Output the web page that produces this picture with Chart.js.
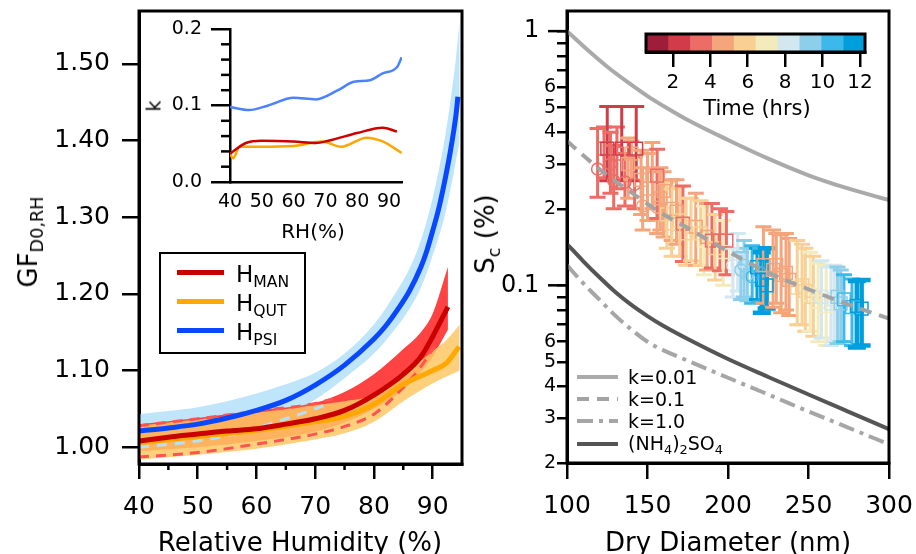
<!DOCTYPE html>
<html>
<head>
<meta charset="utf-8">
<script src="https://cdn.jsdelivr.net/npm/chart.js@4.4.1/dist/chart.umd.min.js"></script>
<style>
  body { margin: 0; background: #fff; }
  #fig { position: relative; width: 916px; height: 554px; background: #fff; overflow: hidden;
         font-family: 'DejaVu Sans', sans-serif; color: #000; }
  #fig canvas { position: absolute; }
  .t { position: absolute; white-space: nowrap; line-height: 1; }
  .c { transform: translate(-50%, -50%); }
  .l { transform: translateY(-50%); }
  .r { transform: translate(-50%, -50%) rotate(-90deg); }
  sub { font-size: 0.68em; vertical-align: -0.32em; line-height: 0; }
  .swatch { position: absolute; width: 47px; height: 5px; }
  #legL { position: absolute; left: 159px; top: 252px; width: 147px; height: 102px;
          border: 2.5px solid #000; box-sizing: border-box; background: #fff; }
</style>
</head>
<body>
<div id="fig">
  <canvas id="gf" width="470" height="554" style="left:0;top:0"></canvas>
  <canvas id="kin" width="270" height="250" style="left:150px;top:0"></canvas>
  <canvas id="sc" width="446" height="554" style="left:470px;top:0"></canvas>
  <canvas id="cbar" width="270" height="110" style="left:620px;top:20px"></canvas>

  <div class="t r" style="left:28px;top:242px;font-size:26px">GF<sub>D0,RH</sub></div>
  <div class="t c" style="left:300px;top:542px;font-size:26px">Relative Humidity (%)</div>
  <div class="t r" style="left:154px;top:106px;font-size:19px">k</div>
  <div class="t c" style="left:313px;top:231px;font-size:20px">RH(%)</div>
  <div class="t r" style="left:485px;top:234px;font-size:26px">S<sub>c</sub> (%)</div>
  <div class="t c" style="left:728px;top:542px;font-size:26px">Dry Diameter (nm)</div>
  <div class="t c" style="left:757px;top:108px;font-size:21px">Time (hrs)</div>

  <div id="legL"></div>
  <div class="swatch" style="left:177px;top:270px;background:#c80000"></div>
  <div class="swatch" style="left:177px;top:299px;background:#ffa800"></div>
  <div class="swatch" style="left:177px;top:328px;background:#0a48ff"></div>
  <div class="t l" style="left:236px;top:274px;font-size:23px">H<sub>MAN</sub></div>
  <div class="t l" style="left:236px;top:303px;font-size:23px">H<sub>QUT</sub></div>
  <div class="t l" style="left:236px;top:332px;font-size:23px">H<sub>PSI</sub></div>

  <svg width="44" height="92" style="position:absolute;left:576px;top:366px">
    <line x1="1" y1="11" x2="42" y2="11" stroke="#aaaaaa" stroke-width="4"/>
    <line x1="1" y1="33" x2="42" y2="33" stroke="#a3a3a3" stroke-width="4" stroke-dasharray="12 8"/>
    <line x1="1" y1="55" x2="42" y2="55" stroke="#a6a6a6" stroke-width="4" stroke-dasharray="16 6 4 6"/>
    <line x1="1" y1="78" x2="42" y2="78" stroke="#555555" stroke-width="4"/>
  </svg>
  <div class="t l" style="left:628px;top:377px;font-size:19px">k=0.01</div>
  <div class="t l" style="left:628px;top:399px;font-size:19px">k=0.1</div>
  <div class="t l" style="left:628px;top:421px;font-size:19px">k=1.0</div>
  <div class="t l" style="left:628px;top:443px;font-size:19px">(NH<sub>4</sub>)<sub>2</sub>SO<sub>4</sub></div>
</div>

<script>
// growth factor vs RH, three instruments
const rhPSI = [40, 45, 50, 55, 60, 65, 70, 75, 80, 82, 84, 86, 88, 89, 90, 91, 92, 93, 94, 94.3];
const gfPSI = [1.021, 1.025, 1.030, 1.038, 1.048, 1.061, 1.081, 1.107, 1.141, 1.158, 1.179, 1.203, 1.235, 1.256, 1.282, 1.310, 1.345, 1.385, 1.435, 1.457];
const rhPSIBand = [40, 45, 50, 55, 60, 65, 70, 75, 80, 84, 86, 88, 90, 92, 93, 94, 94.6];
const gfPSIHi = [1.043, 1.047, 1.052, 1.060, 1.070, 1.082, 1.097, 1.122, 1.160, 1.205, 1.232, 1.270, 1.325, 1.400, 1.450, 1.510, 1.557];
const gfPSILo = [1.003, 1.006, 1.010, 1.017, 1.027, 1.040, 1.062, 1.090, 1.122, 1.158, 1.180, 1.208, 1.250, 1.300, 1.335, 1.375, 1.400];

const rhMAN = [40, 45, 50, 55, 60, 65, 70, 75, 80, 85, 88, 90, 92.6];
const gfMAN = [1.008, 1.013, 1.017, 1.021, 1.024, 1.030, 1.037, 1.048, 1.068, 1.095, 1.118, 1.144, 1.183];
const rhMANBand = [40, 50, 60, 70, 75, 80, 85, 88, 90, 92.6];
const gfMANHi = [1.030, 1.038, 1.048, 1.058, 1.072, 1.095, 1.128, 1.150, 1.174, 1.235];
const gfMANLo = [0.995, 1.000, 1.008, 1.020, 1.032, 1.050, 1.075, 1.098, 1.118, 1.153];
const rhMANDashHi = [40, 50, 60, 70, 73];
const gfMANDashHi = [1.028, 1.037, 1.047, 1.057, 1.063];
const rhMANDashLo = [40, 50, 60, 70, 75, 80, 85, 88, 90.3];
const gfMANDashLo = [0.987, 0.993, 1.004, 1.017, 1.027, 1.043, 1.078, 1.105, 1.131];

const rhQUT = [40, 50, 60, 70, 75, 80, 85, 90, 92.4, 94.5];
const gfQUT = [1.006, 1.014, 1.022, 1.033, 1.040, 1.056, 1.082, 1.100, 1.110, 1.131];
const rhQUTBand = [40, 50, 60, 70, 75, 80, 85, 90, 92.4, 94.6];
const gfQUTHi = [1.028, 1.036, 1.045, 1.055, 1.060, 1.068, 1.095, 1.125, 1.140, 1.160];
const gfQUTLo = [0.984, 0.990, 0.998, 1.010, 1.018, 1.033, 1.060, 1.083, 1.092, 1.100];

const rhPSIDash = [40, 50, 55, 60, 65, 70, 72];
const gfPSIDash = [1.000, 1.008, 1.015, 1.025, 1.037, 1.050, 1.056];

const gfTicks = [1.0, 1.1, 1.2, 1.3, 1.4, 1.5];
const rhTicks = [40, 50, 60, 70, 80, 90];
const rhMinorTicks = [45, 55, 65, 75, 85];

// kappa vs RH (inset)
const rhKPSI = [40, 46, 52, 60, 67, 74, 79, 84, 88, 92.5, 94];
const kPSI = [0.098, 0.094, 0.100, 0.110, 0.108, 0.120, 0.131, 0.133, 0.142, 0.150, 0.163];
const rhKMAN = [40, 45, 50, 60, 67, 71, 80, 88, 92.5];
const kMAN = [0.037, 0.051, 0.054, 0.053, 0.051, 0.054, 0.064, 0.071, 0.066];
const rhKQUT = [40, 41, 43, 49, 60, 69, 75, 83, 88, 94];
const kQUT = [0.037, 0.031, 0.046, 0.046, 0.047, 0.053, 0.046, 0.058, 0.053, 0.038];
const kTicks = [0, 0.1, 0.2];
const kMinorTicks = [0.02, 0.04, 0.06, 0.08, 0.12, 0.14, 0.16, 0.18];

// critical supersaturation vs dry diameter, reference curves
const dK001 = [100, 112.5, 125, 137.5, 150, 162.5, 175, 200, 225, 250, 275, 300];
const scK001 = [1.0, 0.846, 0.724, 0.631, 0.555, 0.496, 0.447, 0.373, 0.315, 0.271, 0.240, 0.2165];
const dK01 = [100, 110, 120, 130, 140, 150, 160, 175, 200, 225, 250, 275, 300];
const scK01 = [0.37, 0.325, 0.287, 0.257, 0.232, 0.209, 0.190, 0.168, 0.136, 0.112, 0.0965, 0.084, 0.074];
const dK1 = [100, 110, 120, 130, 140, 150, 160, 175, 200, 225, 250, 275, 300];
const scK1 = [0.12, 0.102, 0.088, 0.076, 0.067, 0.060, 0.0555, 0.0505, 0.0433, 0.0372, 0.0319, 0.0275, 0.0237];
const dAS = [100, 110, 120, 130, 140, 150, 160, 175, 200, 225, 250, 275, 300];
const scAS = [0.1454, 0.1246, 0.1078, 0.0941, 0.0837, 0.0757, 0.0692, 0.0615, 0.0513, 0.0436, 0.0372, 0.0318, 0.0272];

// measured points: diameter, Sc, error range, hour of day, marker
const scD    = [119, 123, 125, 127, 129, 131, 134, 136, 138, 140, 142, 143, 146, 147, 150, 153, 156, 156, 158, 160, 162, 165, 165, 168, 170, 172, 174, 177, 180, 183, 185, 187, 190, 192, 195, 197, 199, 203, 206, 208, 210, 212, 215, 218, 220, 221, 222, 224, 228, 230, 233, 236, 238, 243, 246, 248, 251, 253, 256, 258, 261, 264, 266, 268, 270, 272, 277, 280, 283];
const scS    = [0.287, 0.345, 0.345, 0.300, 0.258, 0.330, 0.345, 0.255, 0.300, 0.330, 0.250, 0.345, 0.260, 0.205, 0.240, 0.270, 0.203, 0.270, 0.220, 0.235, 0.190, 0.200, 0.175, 0.195, 0.180, 0.175, 0.160, 0.170, 0.170, 0.160, 0.150, 0.155, 0.150, 0.140, 0.150, 0.135, 0.150, 0.120, 0.125, 0.115, 0.120, 0.110, 0.108, 0.118, 0.112, 0.105, 0.120, 0.100, 0.115, 0.120, 0.110, 0.112, 0.105, 0.098, 0.100, 0.095, 0.092, 0.090, 0.086, 0.090, 0.083, 0.085, 0.088, 0.090, 0.085, 0.088, 0.082, 0.083, 0.081];
const scLo   = [0.222, 0.265, 0.258, 0.230, 0.200, 0.240, 0.258, 0.205, 0.220, 0.260, 0.200, 0.258, 0.190, 0.165, 0.180, 0.200, 0.160, 0.183, 0.165, 0.155, 0.140, 0.150, 0.130, 0.145, 0.130, 0.124, 0.120, 0.125, 0.120, 0.120, 0.110, 0.115, 0.117, 0.105, 0.114, 0.100, 0.110, 0.090, 0.095, 0.088, 0.090, 0.087, 0.085, 0.088, 0.086, 0.078, 0.085, 0.081, 0.082, 0.085, 0.078, 0.080, 0.076, 0.070, 0.070, 0.066, 0.066, 0.063, 0.060, 0.062, 0.058, 0.058, 0.060, 0.059, 0.060, 0.060, 0.058, 0.057, 0.058];
const scHi   = [0.414, 0.420, 0.505, 0.400, 0.355, 0.420, 0.505, 0.330, 0.380, 0.370, 0.320, 0.505, 0.340, 0.290, 0.330, 0.365, 0.280, 0.343, 0.290, 0.280, 0.255, 0.260, 0.240, 0.260, 0.245, 0.246, 0.220, 0.220, 0.230, 0.215, 0.205, 0.210, 0.210, 0.190, 0.200, 0.180, 0.195, 0.140, 0.160, 0.135, 0.150, 0.140, 0.143, 0.140, 0.140, 0.135, 0.170, 0.140, 0.165, 0.160, 0.158, 0.160, 0.153, 0.150, 0.145, 0.140, 0.135, 0.130, 0.122, 0.125, 0.120, 0.118, 0.120, 0.118, 0.115, 0.110, 0.106, 0.104, 0.105];
const scTime = [3.3, 3.4, 2.2, 3.5, 3.6, 3.4, 2.4, 3.7, 4.2, 4.5, 3.9, 2.7, 4.4, 4.3, 4.2, 4.6, 4.4, 3.2, 5.0, 4.8, 5.5, 4.9, 5.8, 4.3, 6.0, 3.3, 6.2, 5.6, 4.6, 5.9, 6.6, 4.4, 3.4, 5.3, 3.5, 7.0, 3.7, 8.0, 7.8, 9.0, 8.9, 9.5, 10.5, 11.3, 10.2, 12.0, 4.6, 11.8, 4.8, 4.2, 4.5, 4.7, 5.0, 5.4, 5.5, 5.7, 6.5, 6.0, 6.8, 7.7, 7.2, 8.1, 8.5, 9.3, 9.9, 10.4, 10.8, 12.1, 11.8];
const scShape = ['circle', 'rect', 'rect', 'circle', 'circle', 'rect', 'rect', 'circle', 'rect', 'rect', 'circle', 'rect', 'rect', 'circle', 'rect', 'rect', 'circle', 'rect', 'rect', 'rect', 'rect', 'rect', 'rect', 'rect', 'rect', 'rect', 'rect', 'rect', 'rect', 'rect', 'rect', 'rect', 'rect', 'rect', 'rect', 'rect', 'rect', 'circle', 'rect', 'circle', 'circle', 'circle', 'circle', 'rect', 'circle', 'rect', 'rect', 'rect', 'rect', 'rect', 'rect', 'rect', 'rect', 'rect', 'rect', 'rect', 'rect', 'rect', 'rect', 'rect', 'rect', 'rect', 'rect', 'rect', 'rect', 'rect', 'rect', 'rect', 'rect'];

const dTicks = [100, 150, 200, 250, 300];
const scTicks = [0.02, 0.03, 0.04, 0.05, 0.06, 0.07, 0.08, 0.09, 0.1, 0.2, 0.3, 0.4, 0.5, 0.6, 0.7, 0.8, 0.9, 1];
const scTickLabels = ['2', '3', '4', '5', '6', '', '', '', '0.1', '2', '3', '4', '5', '6', '', '', '', '1'];
const scDecades = [0.1, 1];

// colour scale for time
const timeEdges = [0.56, 1.73, 2.90, 4.07, 5.24, 6.41, 7.58, 8.75, 9.92, 11.10, 12.27];
const timeColors = ['#9e1d38', '#d13c4b', '#ec6c66', '#f4a57c', '#f8d094', '#f3ebbb', '#d2e7ef', '#8dcfea', '#3cb9ea', '#009fdb'];
const timeTicks = [2, 4, 6, 8, 10, 12];

function timeColor(t) {
  for (let i = 0; i < timeColors.length; i++) {
    if (t < timeEdges[i + 1]) return timeColors[i];
  }
  return timeColors[timeColors.length - 1];
}

const pts = (xs, ys) => xs.map((x, i) => ({ x, y: ys[i] }));
const setTicks = values => scale => { scale.ticks = values.map(v => ({ value: v })); };

// fixed axis box sizes, no extra room for overhanging labels
const fitWidth = w => s => { s.width = w; s.paddingTop = 0; s.paddingBottom = 0; };
const fitHeight = h => s => { s.height = h; s.paddingLeft = 0; s.paddingRight = 0; };

Chart.defaults.font.family = "'DejaVu Sans', sans-serif";
Chart.defaults.color = '#000';

function axis(tickLength, extra) {
  return Object.assign({
    grid: { drawOnChartArea: false, drawTicks: true, tickLength, tickWidth: 2.5, lineWidth: 2.5, tickColor: '#000' },
    border: { display: true, color: '#000', width: 3 }
  }, extra);
}

// box around the plot area
const frame = {
  id: 'frame',
  afterDatasetsDraw(chart) {
    const { ctx, chartArea: a } = chart;
    ctx.save();
    ctx.strokeStyle = '#000';
    ctx.lineWidth = 3;
    ctx.strokeRect(a.left, a.top, a.right - a.left, a.bottom - a.top);
    ctx.restore();
  }
};

// extra tick marks of a given length
const minorTicks = {
  id: 'minorTicks',
  afterDraw(chart, args, opts) {
    const ctx = chart.ctx;
    ctx.save();
    ctx.strokeStyle = '#000';
    ctx.lineWidth = 2.5;
    (opts.sets || []).forEach(set => {
      const scale = chart.scales[set.axis];
      set.values.forEach(v => {
        const p = scale.getPixelForValue(v);
        ctx.beginPath();
        if (scale.isHorizontal()) {
          ctx.moveTo(p, scale.top);
          ctx.lineTo(p, scale.top + set.length);
        } else {
          ctx.moveTo(scale.right - set.length, p);
          ctx.lineTo(scale.right, p);
        }
        ctx.stroke();
      });
    });
    ctx.restore();
  }
};

// vertical error bars with caps, coloured by time
const errorBars = {
  id: 'errorBars',
  beforeDatasetsDraw(chart) {
    const { ctx, chartArea: a } = chart;
    const x = chart.scales.x, y = chart.scales.y;
    ctx.save();
    ctx.beginPath();
    ctx.rect(a.left, a.top, a.right - a.left, a.bottom - a.top);
    ctx.clip();
    scD.forEach((d, i) => {
      const px = x.getPixelForValue(d);
      const lo = y.getPixelForValue(scLo[i]);
      const hi = y.getPixelForValue(scHi[i]);
      const thick = scTime[i] > 11.5;
      const cap = thick ? 9 : 8;
      ctx.strokeStyle = timeColor(scTime[i]);
      ctx.lineWidth = thick ? 4.5 : 3;
      ctx.beginPath();
      ctx.moveTo(px, lo); ctx.lineTo(px, hi);
      ctx.moveTo(px - cap, lo); ctx.lineTo(px + cap, lo);
      ctx.moveTo(px - cap, hi); ctx.lineTo(px + cap, hi);
      ctx.stroke();
    });
    ctx.restore();
  }
};

const common = {
  responsive: false,
  animation: false,
  devicePixelRatio: 1,
  events: [],
  elements: { point: { radius: 0 }, line: { cubicInterpolationMode: 'monotone' } }
};

new Chart(document.getElementById('gf'), {
  type: 'line',
  plugins: [frame, minorTicks],
  data: {
    datasets: [
      { data: pts(rhPSI, gfPSI), borderColor: '#0a48ff', borderWidth: 5, order: 1 },
      { data: pts(rhMAN, gfMAN), borderColor: '#c80000', borderWidth: 5, order: 2 },
      { data: pts(rhQUT, gfQUT), borderColor: '#ffa800', borderWidth: 5, order: 3 },
      { data: pts(rhMANDashLo, gfMANDashLo), borderColor: '#ff5252', borderWidth: 3, borderDash: [10, 7], order: 4 },
      { data: pts(rhMANDashHi, gfMANDashHi), borderColor: '#ff5252', borderWidth: 3, borderDash: [10, 7], order: 4 },
      { data: pts(rhPSIDash, gfPSIDash), borderColor: '#b5e0f6', borderWidth: 3, borderDash: [10, 8], order: 5 },
      { data: pts(rhQUTBand, gfQUTHi), fill: '+1', backgroundColor: 'rgba(255,200,100,0.85)', borderWidth: 0, order: 6 },
      { data: pts(rhQUTBand, gfQUTLo), borderWidth: 0, order: 6 },
      { data: pts(rhMANBand, gfMANHi), fill: '+1', backgroundColor: 'rgba(255,45,45,0.9)', borderWidth: 0, order: 7 },
      { data: pts(rhMANBand, gfMANLo), borderWidth: 0, order: 7 },
      { data: pts(rhPSIBand, gfPSIHi), fill: '+1', backgroundColor: '#bfe5fa', borderWidth: 0, order: 8 },
      { data: pts(rhPSIBand, gfPSILo), borderWidth: 0, order: 8 }
    ]
  },
  options: Object.assign({}, common, {
    layout: { padding: { left: 0, right: 8, top: 11, bottom: 0 } },
    plugins: {
      legend: { display: false },
      tooltip: { enabled: false },
      minorTicks: { sets: [{ axis: 'x', values: rhMinorTicks, length: 6 }] }
    },
    scales: {
      x: axis(15, {
        type: 'linear', min: 40, max: 95,
        afterBuildTicks: setTicks(rhTicks),
        afterFit: fitHeight(90),
        ticks: { autoSkip: false, maxRotation: 0, padding: 13, font: { size: 25 } }
      }),
      y: axis(17, {
        type: 'linear', min: 0.978, max: 1.569,
        afterBuildTicks: setTicks(gfTicks),
        afterFit: fitWidth(139),
        ticks: { autoSkip: false, padding: 12, font: { size: 25 }, callback: v => v.toFixed(2) }
      })
    }
  })
});

new Chart(document.getElementById('kin'), {
  type: 'line',
  plugins: [minorTicks],
  data: {
    datasets: [
      { data: pts(rhKPSI, kPSI), borderColor: '#4a82ff', borderWidth: 2.5 },
      { data: pts(rhKMAN, kMAN), borderColor: '#cc0000', borderWidth: 2.5 },
      { data: pts(rhKQUT, kQUT), borderColor: '#ffa500', borderWidth: 2.5 }
    ]
  },
  options: Object.assign({}, common, {
    layout: { padding: { left: 0, right: 18, top: 29, bottom: 0 } },
    plugins: {
      legend: { display: false },
      tooltip: { enabled: false },
      minorTicks: { sets: [{ axis: 'y', values: kMinorTicks, length: 9 }] }
    },
    scales: {
      x: {
        type: 'linear', min: 40, max: 94.1,
        afterBuildTicks: setTicks(rhTicks),
        afterFit: fitHeight(68),
        grid: { drawOnChartArea: false, drawTicks: false },
        border: { display: true, color: '#000', width: 2.5 },
        ticks: { autoSkip: false, maxRotation: 0, padding: 9, font: { size: 19 } }
      },
      y: axis(19, {
        type: 'linear', min: 0, max: 0.2,
        afterBuildTicks: setTicks(kTicks),
        afterFit: fitWidth(80),
        border: { display: true, color: '#000', width: 2.5 },
        ticks: { autoSkip: false, padding: 9, font: { size: 19 }, callback: v => v.toFixed(1) }
      })
    }
  })
});

new Chart(document.getElementById('sc'), {
  type: 'scatter',
  plugins: [frame, errorBars, minorTicks],
  data: {
    datasets: [
      { data: pts(dK01, scK01), showLine: true, borderColor: '#a3a3a3', borderWidth: 4, borderDash: [12, 8], order: 1 },
      { data: pts(dAS, scAS), showLine: true, borderColor: '#555555', borderWidth: 4, order: 2 },
      { data: pts(dK1, scK1), showLine: true, borderColor: '#a6a6a6', borderWidth: 4, borderDash: [16, 6, 4, 6], order: 2 },
      { data: pts(dK001, scK001), showLine: true, borderColor: '#aaaaaa', borderWidth: 4, order: 2 },
      {
        data: pts(scD, scS), order: 3,
        pointStyle: scShape,
        pointRadius: scShape.map(s => (s === 'rect' ? 9 : 6)),
        pointBorderColor: scTime.map(timeColor),
        pointBackgroundColor: 'rgba(0,0,0,0)',
        pointBorderWidth: 1.5
      }
    ]
  },
  options: Object.assign({}, common, {
    layout: { padding: { left: 0, right: 27, top: 11, bottom: 0 } },
    plugins: {
      legend: { display: false },
      tooltip: { enabled: false },
      minorTicks: { sets: [{ axis: 'y', values: scDecades, length: 19 }] }
    },
    scales: {
      x: axis(16, {
        type: 'linear', min: 100, max: 300,
        afterBuildTicks: setTicks(dTicks),
        afterFit: fitHeight(91),
        ticks: { autoSkip: false, maxRotation: 0, padding: 12, font: { size: 25 } }
      }),
      y: axis(10, {
        type: 'logarithmic', min: 0.02, max: 1.2,
        afterBuildTicks: setTicks(scTicks),
        afterFit: fitWidth(97),
        ticks: {
          autoSkip: false, padding: 1,
          font: c => ({ size: scDecades.includes(c.tick.value) ? 24 : 19 }),
          // decade labels sit further out, past the long tick
          callback: (v, i) => (scDecades.includes(v) ? scTickLabels[i] + '\u2002\u2009' : scTickLabels[i])
        }
      })
    }
  })
});

new Chart(document.getElementById('cbar'), {
  type: 'bar',
  plugins: [frame],
  data: {
    labels: [''],
    datasets: timeColors.map((c, i) => ({
      data: [[timeEdges[i], timeEdges[i + 1]]],
      backgroundColor: c, borderWidth: 0, grouped: false,
      barPercentage: 1, categoryPercentage: 1
    }))
  },
  options: Object.assign({}, common, {
    indexAxis: 'y',
    layout: { padding: { left: 26, right: 25, top: 14, bottom: 0 } },
    plugins: { legend: { display: false }, tooltip: { enabled: false } },
    scales: {
      x: axis(15, {
        type: 'linear', min: timeEdges[0], max: timeEdges[timeEdges.length - 1],
        afterBuildTicks: setTicks(timeTicks),
        afterFit: fitHeight(78),
        ticks: { autoSkip: false, maxRotation: 0, padding: 4, font: { size: 20 } }
      }),
      y: { display: false }
    }
  })
});
</script>
</body>
</html>
